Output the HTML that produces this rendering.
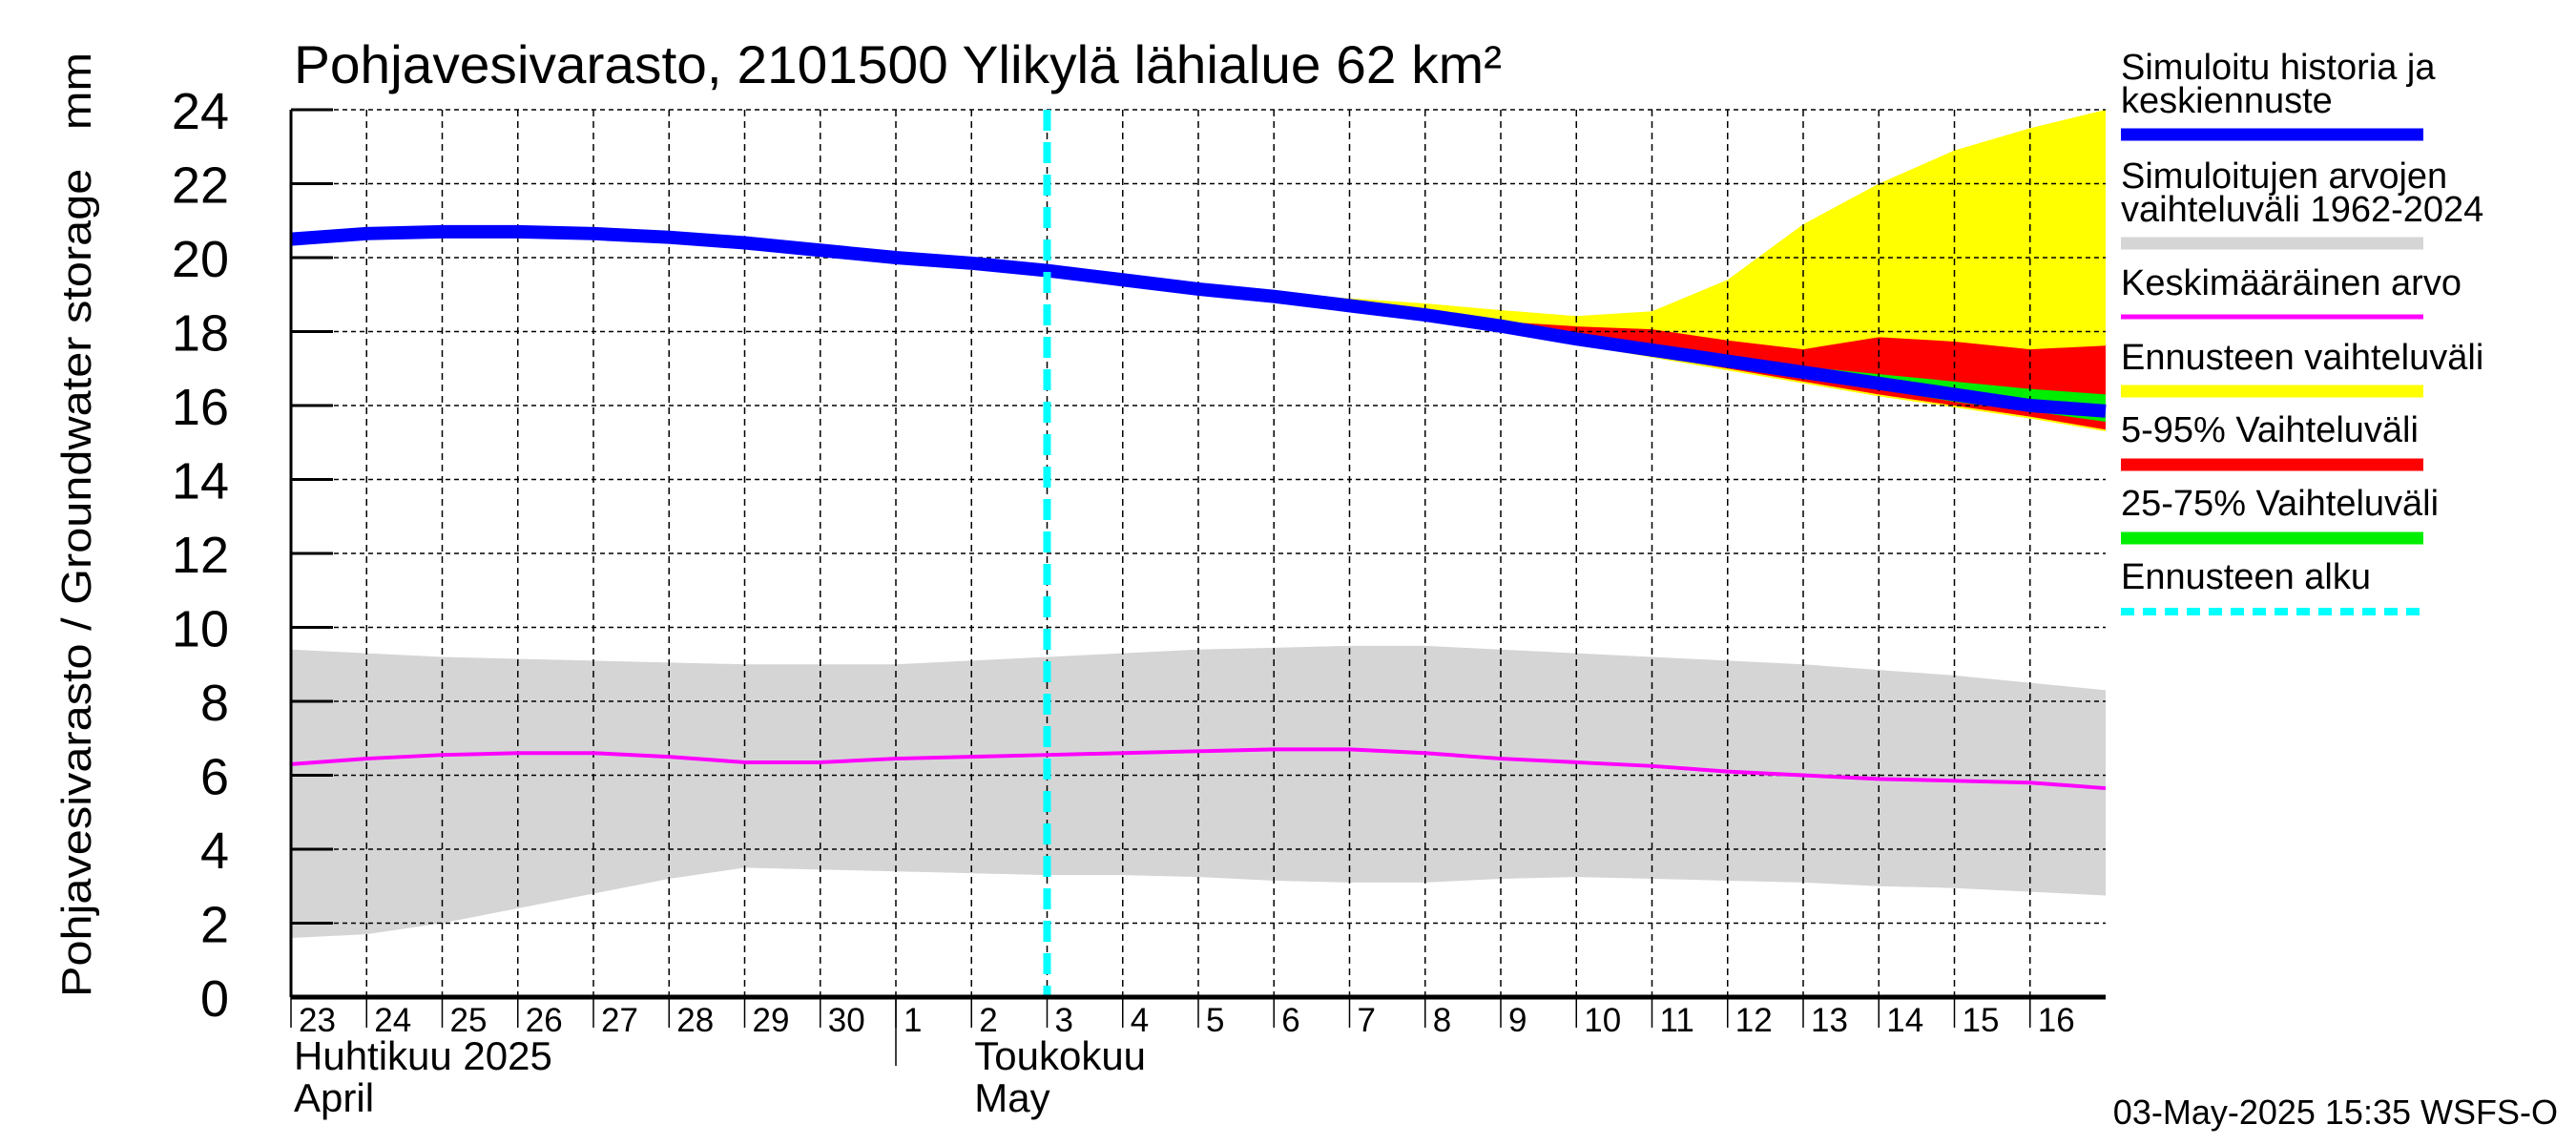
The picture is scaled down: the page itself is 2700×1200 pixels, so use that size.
<!DOCTYPE html>
<html><head><meta charset="utf-8"><style>
html,body{margin:0;padding:0;background:#fff}
svg{display:block}
text{font-family:"Liberation Sans Narrow","Liberation Sans",sans-serif;fill:#000}
</style></head><body>
<svg id="chart" width="2700" height="1200" viewBox="0 0 2700 1200" xmlns="http://www.w3.org/2000/svg">
<g id="bands"></g><g id="grid"></g><g id="lines"></g><g id="axes"></g><g id="legend"></g>
<text x="308" y="87" font-size="56" textLength="1266" lengthAdjust="spacingAndGlyphs">Pohjavesivarasto, 2101500 Ylikylä lähialue 62 km²</text>
<text transform="translate(95,1045) rotate(-90)" x="0" y="0" font-size="44" style="font-family:'Liberation Sans',sans-serif" textLength="990" lengthAdjust="spacingAndGlyphs">Pohjavesivarasto / Groundwater storage&#160;&#160;&#160;mm</text>
<text x="2681" y="1178" font-size="36" text-anchor="end">03-May-2025 15:35 WSFS-O</text>
</svg>
<script>
const dayLabels=["23","24","25","26","27","28","29","30","1","2","3","4","5","6","7","8","9","10","11","12","13","14","15","16"];
const yTicks=[0,2,4,6,8,10,12,14,16,18,20,22,24];
const history=[20.5,20.65,20.7,20.7,20.65,20.55,20.4,20.2,20.0,19.85,19.65,19.4,19.15,18.95,18.7,18.45,18.15,17.8,17.5,17.2,16.9,16.6,16.3,16.0,15.85];
const greyHi=[9.4,9.3,9.2,9.15,9.1,9.05,9.0,9.0,9.0,9.1,9.2,9.3,9.4,9.45,9.5,9.5,9.4,9.3,9.2,9.1,9.0,8.85,8.7,8.5,8.3];
const greyLo=[1.6,1.7,2.0,2.4,2.8,3.2,3.5,3.45,3.4,3.35,3.3,3.3,3.25,3.15,3.1,3.1,3.2,3.25,3.2,3.15,3.1,3.0,2.95,2.85,2.75];
const meanVal=[6.3,6.45,6.55,6.6,6.6,6.5,6.35,6.35,6.45,6.5,6.55,6.6,6.65,6.7,6.7,6.6,6.45,6.35,6.25,6.1,6.0,5.9,5.85,5.8,5.65];
const fcStart=10;
const yellowHi=[19.7,19.5,19.25,19.05,18.9,18.76,18.58,18.42,18.55,19.4,20.9,22.0,22.9,23.5,24.0];
const redHi=[19.65,19.42,19.17,18.97,18.72,18.5,18.27,18.14,18.06,17.76,17.52,17.85,17.73,17.52,17.62];
const greenHi=[19.65,19.4,19.15,18.95,18.7,18.45,18.15,17.82,17.55,17.3,17.05,16.85,16.65,16.45,16.3];
const greenLo=[19.65,19.4,19.15,18.95,18.7,18.45,18.15,17.78,17.45,17.1,16.75,16.45,16.1,15.85,15.56];
const redLo=[19.6,19.35,19.1,18.9,18.65,18.4,18.05,17.7,17.35,17.0,16.65,16.3,16.0,15.7,15.35];
const yellowLo=[19.58,19.33,19.08,18.88,18.62,18.37,18.0,17.65,17.3,16.95,16.6,16.25,15.95,15.65,15.3];

const L=305,R=2207,T=115,B=1045,ND=24;
const X=d=>L+(R-L)*d/ND;
const Y=v=>B-(B-T)*v/24;
const NS="http://www.w3.org/2000/svg";
function mk(tag,parent,attrs){const e=document.createElementNS(NS,tag);for(const k in attrs)e.setAttribute(k,attrs[k]);parent.appendChild(e);return e;}
const gB=document.getElementById('bands'),gG=document.getElementById('grid'),gL=document.getElementById('lines'),gA=document.getElementById('axes'),gLeg=document.getElementById('legend');
function band(hi,lo,off,col,name){
  let p=[];hi.forEach((v,i)=>p.push(X(i+off)+','+Y(v)));
  for(let i=lo.length-1;i>=0;i--)p.push(X(i+off)+','+Y(lo[i]));
  const e=mk('polygon',gB,{points:p.join(' '),fill:col});
  
  
}
function line(vals,off,col,w,name){
  const e=mk('polyline',gL,{points:vals.map((v,i)=>X(i+off)+','+Y(v)).join(' '),fill:'none',stroke:col,'stroke-width':w,'stroke-linejoin':'round'});
  
  
}
band(greyHi,greyLo,0,'#d5d5d5','historical-range-band');
band(yellowHi,yellowLo,fcStart,'#ffff00','forecast-range-band');
band(redHi,redLo,fcStart,'#ff0000','forecast-5-95-band');
band(greenHi,greenLo,fcStart,'#00ee00','forecast-25-75-band');
for(let d=1;d<ND;d++){
  const e=mk('line',gG,{x1:X(d),x2:X(d),y1:T,y2:B,stroke:'#000','stroke-width':1.5,'stroke-dasharray':'7,5'});
  
  
}
yTicks.forEach(v=>{
  if(v>0){const e=mk('line',gG,{x1:L,x2:R,y1:Y(v),y2:Y(v),stroke:'#000','stroke-width':1.5,'stroke-dasharray':'5,4'});
  
  }
  const t=mk('line',gA,{x1:L,x2:L+44,y1:Y(v),y2:Y(v),stroke:'#000','stroke-width':3});
  
  
  const tx=mk('text',gA,{x:240,y:Y(v)+20,'font-size':54,'text-anchor':'end'});
  tx.textContent=v;
  
  
});
line(meanVal,0,'#ff00ff',4,'mean-line');
line(history,0,'#0000ff',14,'simulated-history-line');
const fc=mk('line',gL,{x1:X(fcStart),x2:X(fcStart),y1:T,y2:B,stroke:'#00ffff','stroke-width':8,'stroke-dasharray':'22,12'});


mk('line',gA,{x1:L,x2:L,y1:T,y2:B,stroke:'#000','stroke-width':3});
mk('line',gA,{x1:L,x2:R,y1:B,y2:B,stroke:'#000','stroke-width':5});
dayLabels.forEach((s,d)=>{
  const tk=mk('line',gA,{x1:X(d),x2:X(d),y1:B,y2:B+32,stroke:'#000','stroke-width':1.5});
  
  
  const t=mk('text',gA,{x:X(d)+8,y:1081,'font-size':35});
  t.textContent=s;
  
  
});
mk('line',gA,{x1:X(8),x2:X(8),y1:B,y2:1117,stroke:'#000','stroke-width':1.5});
[["Huhtikuu  2025",0,1121],["April",0,1165],["Toukokuu",9,1121],["May",9,1165]].forEach(m=>{
  const t=mk('text',gA,{x:X(m[1])+3,y:m[2],'font-size':42});
  t.textContent=m[0];
  
  
});
const LX=2223,LX2=2540;
const leg=[
 [["Simuloitu historia ja","keskiennuste"],[83,118],141,'#0000ff',13,null],
 [["Simuloitujen arvojen","vaihteluväli 1962-2024"],[197,232],255,'#d5d5d5',13,null],
 [["Keskimääräinen arvo"],[309],332,'#ff00ff',5,null],
 [["Ennusteen vaihteluväli"],[387],410,'#ffff00',13,null],
 [["5-95% Vaihteluväli"],[463],487,'#ff0000',13,null],
 [["25-75% Vaihteluväli"],[540],564,'#00ee00',13,null],
 [["Ennusteen alku"],[617],641,'#00ffff',8,'14,9']
];
leg.forEach(e=>{
  e[0].forEach((s,i)=>{const t=mk('text',gLeg,{x:LX,y:e[1][i],'font-size':38});t.textContent=s;
    
    });
  const a={x1:LX,x2:LX2,y1:e[2],y2:e[2],stroke:e[3],'stroke-width':e[4]};
  if(e[5])a['stroke-dasharray']=e[5];
  const l=mk('line',gLeg,a);
  
  
});
</script>
</body></html>
